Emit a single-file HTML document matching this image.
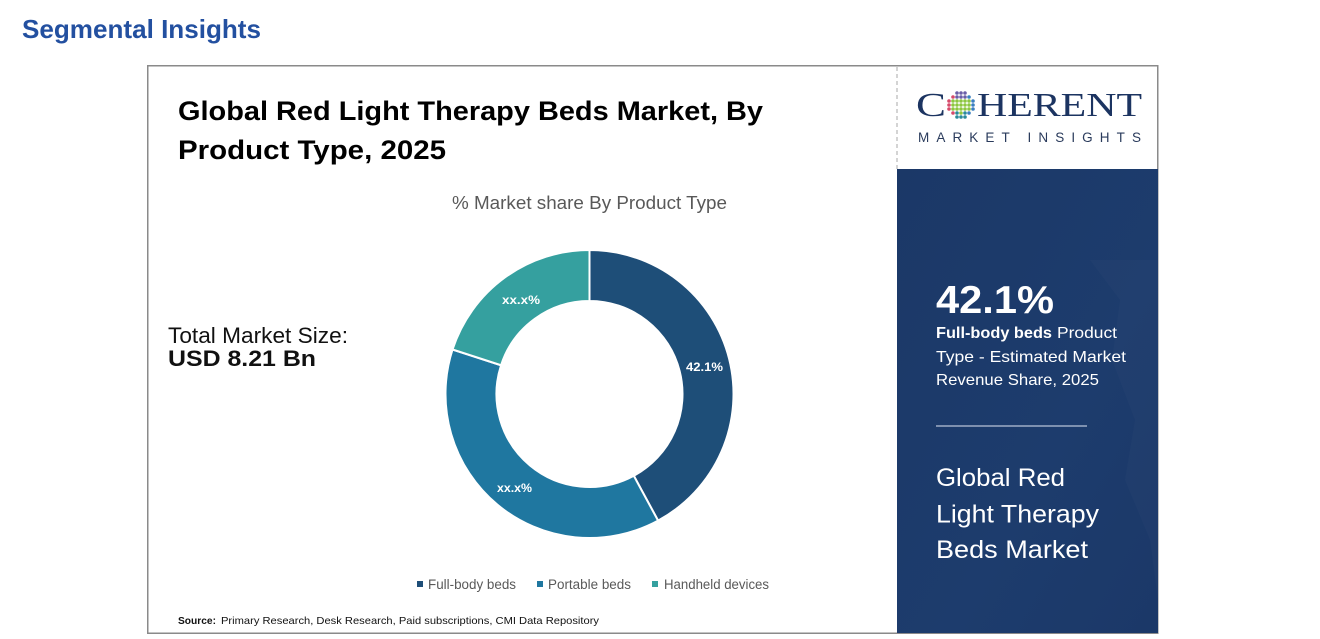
<!DOCTYPE html>
<html>
<head>
<meta charset="utf-8">
<style>
  html,body{margin:0;padding:0;background:#fff;}
  body{width:1320px;height:639px;overflow:hidden;}
  svg{display:block;}
  text{font-family:"Liberation Sans",sans-serif;}
</style>
</head>
<body>
<svg width="1320" height="639" viewBox="0 0 1320 639" xmlns="http://www.w3.org/2000/svg">
  <rect width="1320" height="639" fill="#fff"/>

  <!-- Header -->
  <text x="22" y="38" font-size="26" font-weight="bold" fill="#2350a0" textLength="239" lengthAdjust="spacingAndGlyphs">Segmental Insights</text>

  <!-- Main box -->
  <rect x="147.75" y="65.75" width="1010" height="567.5" fill="#fff" stroke="#8a8a8a" stroke-width="1.5"/>

  <!-- Title -->
  <text x="178" y="120" font-size="27" font-weight="bold" fill="#000" textLength="585" lengthAdjust="spacingAndGlyphs">Global Red Light Therapy Beds Market, By</text>
  <text x="178" y="159" font-size="27" font-weight="bold" fill="#000" textLength="268" lengthAdjust="spacingAndGlyphs">Product Type, 2025</text>

  <!-- Subtitle -->
  <text x="452" y="209" font-size="18" fill="#595959" textLength="275" lengthAdjust="spacingAndGlyphs">% Market share By Product Type</text>

  <!-- Total market size -->
  <text x="168" y="343" font-size="22" fill="#111" textLength="180" lengthAdjust="spacingAndGlyphs">Total Market Size:</text>
  <text x="168" y="366" font-size="22" font-weight="bold" fill="#111" textLength="148" lengthAdjust="spacingAndGlyphs">USD 8.21 Bn</text>

  <!-- Donut -->
  <g stroke="#fff" stroke-width="2" stroke-linejoin="round">
    <path d="M589.5,250 A144,144 0 0 1 658.09,520.62 L633.80,475.77 A93,93 0 0 0 589.5,301 Z" fill="#1e4e78"/>
    <path d="M658.09,520.62 A144,144 0 0 1 452.54,349.50 L501.05,365.26 A93,93 0 0 0 633.80,475.77 Z" fill="#1f77a0"/>
    <path d="M452.54,349.50 A144,144 0 0 1 589.5,250 L589.5,301 A93,93 0 0 0 501.05,365.26 Z" fill="#35a09f"/>
  </g>
  <text x="686" y="371" font-size="12" font-weight="bold" fill="#fff" textLength="37" lengthAdjust="spacingAndGlyphs">42.1%</text>
  <text x="502" y="304" font-size="12" font-weight="bold" fill="#fff" textLength="38" lengthAdjust="spacingAndGlyphs">xx.x%</text>
  <text x="497" y="492" font-size="12" font-weight="bold" fill="#fff" textLength="35" lengthAdjust="spacingAndGlyphs">xx.x%</text>

  <!-- Legend -->
  <rect x="417" y="581" width="6" height="6" fill="#1e4e78"/>
  <text x="428" y="589" font-size="13.5" fill="#595959" textLength="88" lengthAdjust="spacingAndGlyphs">Full-body beds</text>
  <rect x="537" y="581" width="6" height="6" fill="#1f77a0"/>
  <text x="548" y="589" font-size="13.5" fill="#595959" textLength="83" lengthAdjust="spacingAndGlyphs">Portable beds</text>
  <rect x="652" y="581" width="6" height="6" fill="#35a09f"/>
  <text x="664" y="589" font-size="13.5" fill="#595959" textLength="105" lengthAdjust="spacingAndGlyphs">Handheld devices</text>

  <!-- Source -->
  <text x="178" y="624" font-size="10.5" font-weight="bold" fill="#111" textLength="38" lengthAdjust="spacingAndGlyphs">Source:</text>
  <text x="221" y="624" font-size="10.5" fill="#111" textLength="378" lengthAdjust="spacingAndGlyphs">Primary Research, Desk Research, Paid subscriptions, CMI Data Repository</text>

  <!-- Right panel: logo area -->
  <line x1="897" y1="67" x2="897" y2="169" stroke="#aaa" stroke-width="1" stroke-dasharray="4,3"/>
  <text x="916" y="116" font-size="34" fill="#1c3461" textLength="30" lengthAdjust="spacingAndGlyphs" style="font-family:'Liberation Serif',serif">C</text>
  <text x="977" y="116" font-size="34" fill="#1c3461" textLength="165" lengthAdjust="spacingAndGlyphs" style="font-family:'Liberation Serif',serif">HERENT</text>
  <g>
    <g fill="#6b5ea8">
      <circle cx="957" cy="93" r="1.8"/><circle cx="961" cy="93" r="1.8"/><circle cx="965" cy="93" r="1.8"/>
      <circle cx="957" cy="97" r="1.8"/><circle cx="961" cy="97" r="1.8"/><circle cx="965" cy="97" r="1.8"/>
    </g>
    <g fill="#d64a6a">
      <circle cx="953" cy="97" r="1.8"/>
      <circle cx="949" cy="101" r="1.8"/><circle cx="949" cy="105" r="1.8"/><circle cx="949" cy="109" r="1.8"/>
      <circle cx="953" cy="113" r="1.8"/>
    </g>
    <g fill="#3a7fc0">
      <circle cx="969" cy="97" r="1.8"/>
      <circle cx="973" cy="101" r="1.8"/><circle cx="973" cy="105" r="1.8"/><circle cx="973" cy="109" r="1.8"/>
      <circle cx="969" cy="113" r="1.8"/>
    </g>
    <g fill="#2a8a9a">
      <circle cx="957" cy="117" r="1.8"/><circle cx="961" cy="117" r="1.8"/><circle cx="965" cy="117" r="1.8"/>
      <circle cx="957" cy="113" r="1.8"/><circle cx="965" cy="113" r="1.8"/>
    </g>
    <g fill="#8dc63f">
      <circle cx="953" cy="101" r="1.8"/><circle cx="957" cy="101" r="1.8"/><circle cx="961" cy="101" r="1.8"/><circle cx="965" cy="101" r="1.8"/><circle cx="969" cy="101" r="1.8"/>
      <circle cx="953" cy="105" r="1.8"/><circle cx="957" cy="105" r="1.8"/><circle cx="961" cy="105" r="1.8"/><circle cx="965" cy="105" r="1.8"/><circle cx="969" cy="105" r="1.8"/>
      <circle cx="953" cy="109" r="1.8"/><circle cx="957" cy="109" r="1.8"/><circle cx="961" cy="109" r="1.8"/><circle cx="965" cy="109" r="1.8"/><circle cx="969" cy="109" r="1.8"/>
      <circle cx="961" cy="113" r="1.8"/>
    </g>
  </g>
  <text x="918" y="142" font-size="13.5" fill="#2a3b5c" textLength="223" lengthAdjust="spacing">MARKET INSIGHTS</text>

  <!-- Right panel: blue area -->
  <defs>
    <linearGradient id="bg" x1="0" y1="0" x2="1" y2="1">
      <stop offset="0" stop-color="#1b3867"/>
      <stop offset="0.6" stop-color="#1d3c6d"/>
      <stop offset="1" stop-color="#1b3868"/>
    </linearGradient>
  </defs>
  <rect x="897" y="169" width="261" height="464" fill="url(#bg)"/>
  <path d="M1090,260 L1120,300 L1112,360 L1135,420 L1125,480 L1150,540 L1158,600 L1158,260 Z" fill="#ffffff" opacity="0.02"/>

  <text x="936" y="313" font-size="39" font-weight="bold" fill="#fff" textLength="118" lengthAdjust="spacingAndGlyphs">42.1%</text>
  <text x="936" y="338" font-size="16" font-weight="bold" fill="#fff" textLength="116" lengthAdjust="spacingAndGlyphs">Full-body beds</text>
  <text x="1057" y="338" font-size="16" fill="#fff" textLength="60" lengthAdjust="spacingAndGlyphs">Product</text>
  <text x="936" y="362" font-size="16" fill="#fff" textLength="190" lengthAdjust="spacingAndGlyphs">Type - Estimated Market</text>
  <text x="936" y="385" font-size="16" fill="#fff" textLength="163" lengthAdjust="spacingAndGlyphs">Revenue Share, 2025</text>

  <line x1="936" y1="426" x2="1087" y2="426" stroke="#b8c4d8" stroke-width="1.3"/>

  <text x="936" y="486" font-size="25" fill="#fff" textLength="129" lengthAdjust="spacingAndGlyphs">Global Red</text>
  <text x="936" y="522.5" font-size="25" fill="#fff" textLength="163" lengthAdjust="spacingAndGlyphs">Light Therapy</text>
  <text x="936" y="558" font-size="25" fill="#fff" textLength="152" lengthAdjust="spacingAndGlyphs">Beds Market</text>
</svg>
</body>
</html>
